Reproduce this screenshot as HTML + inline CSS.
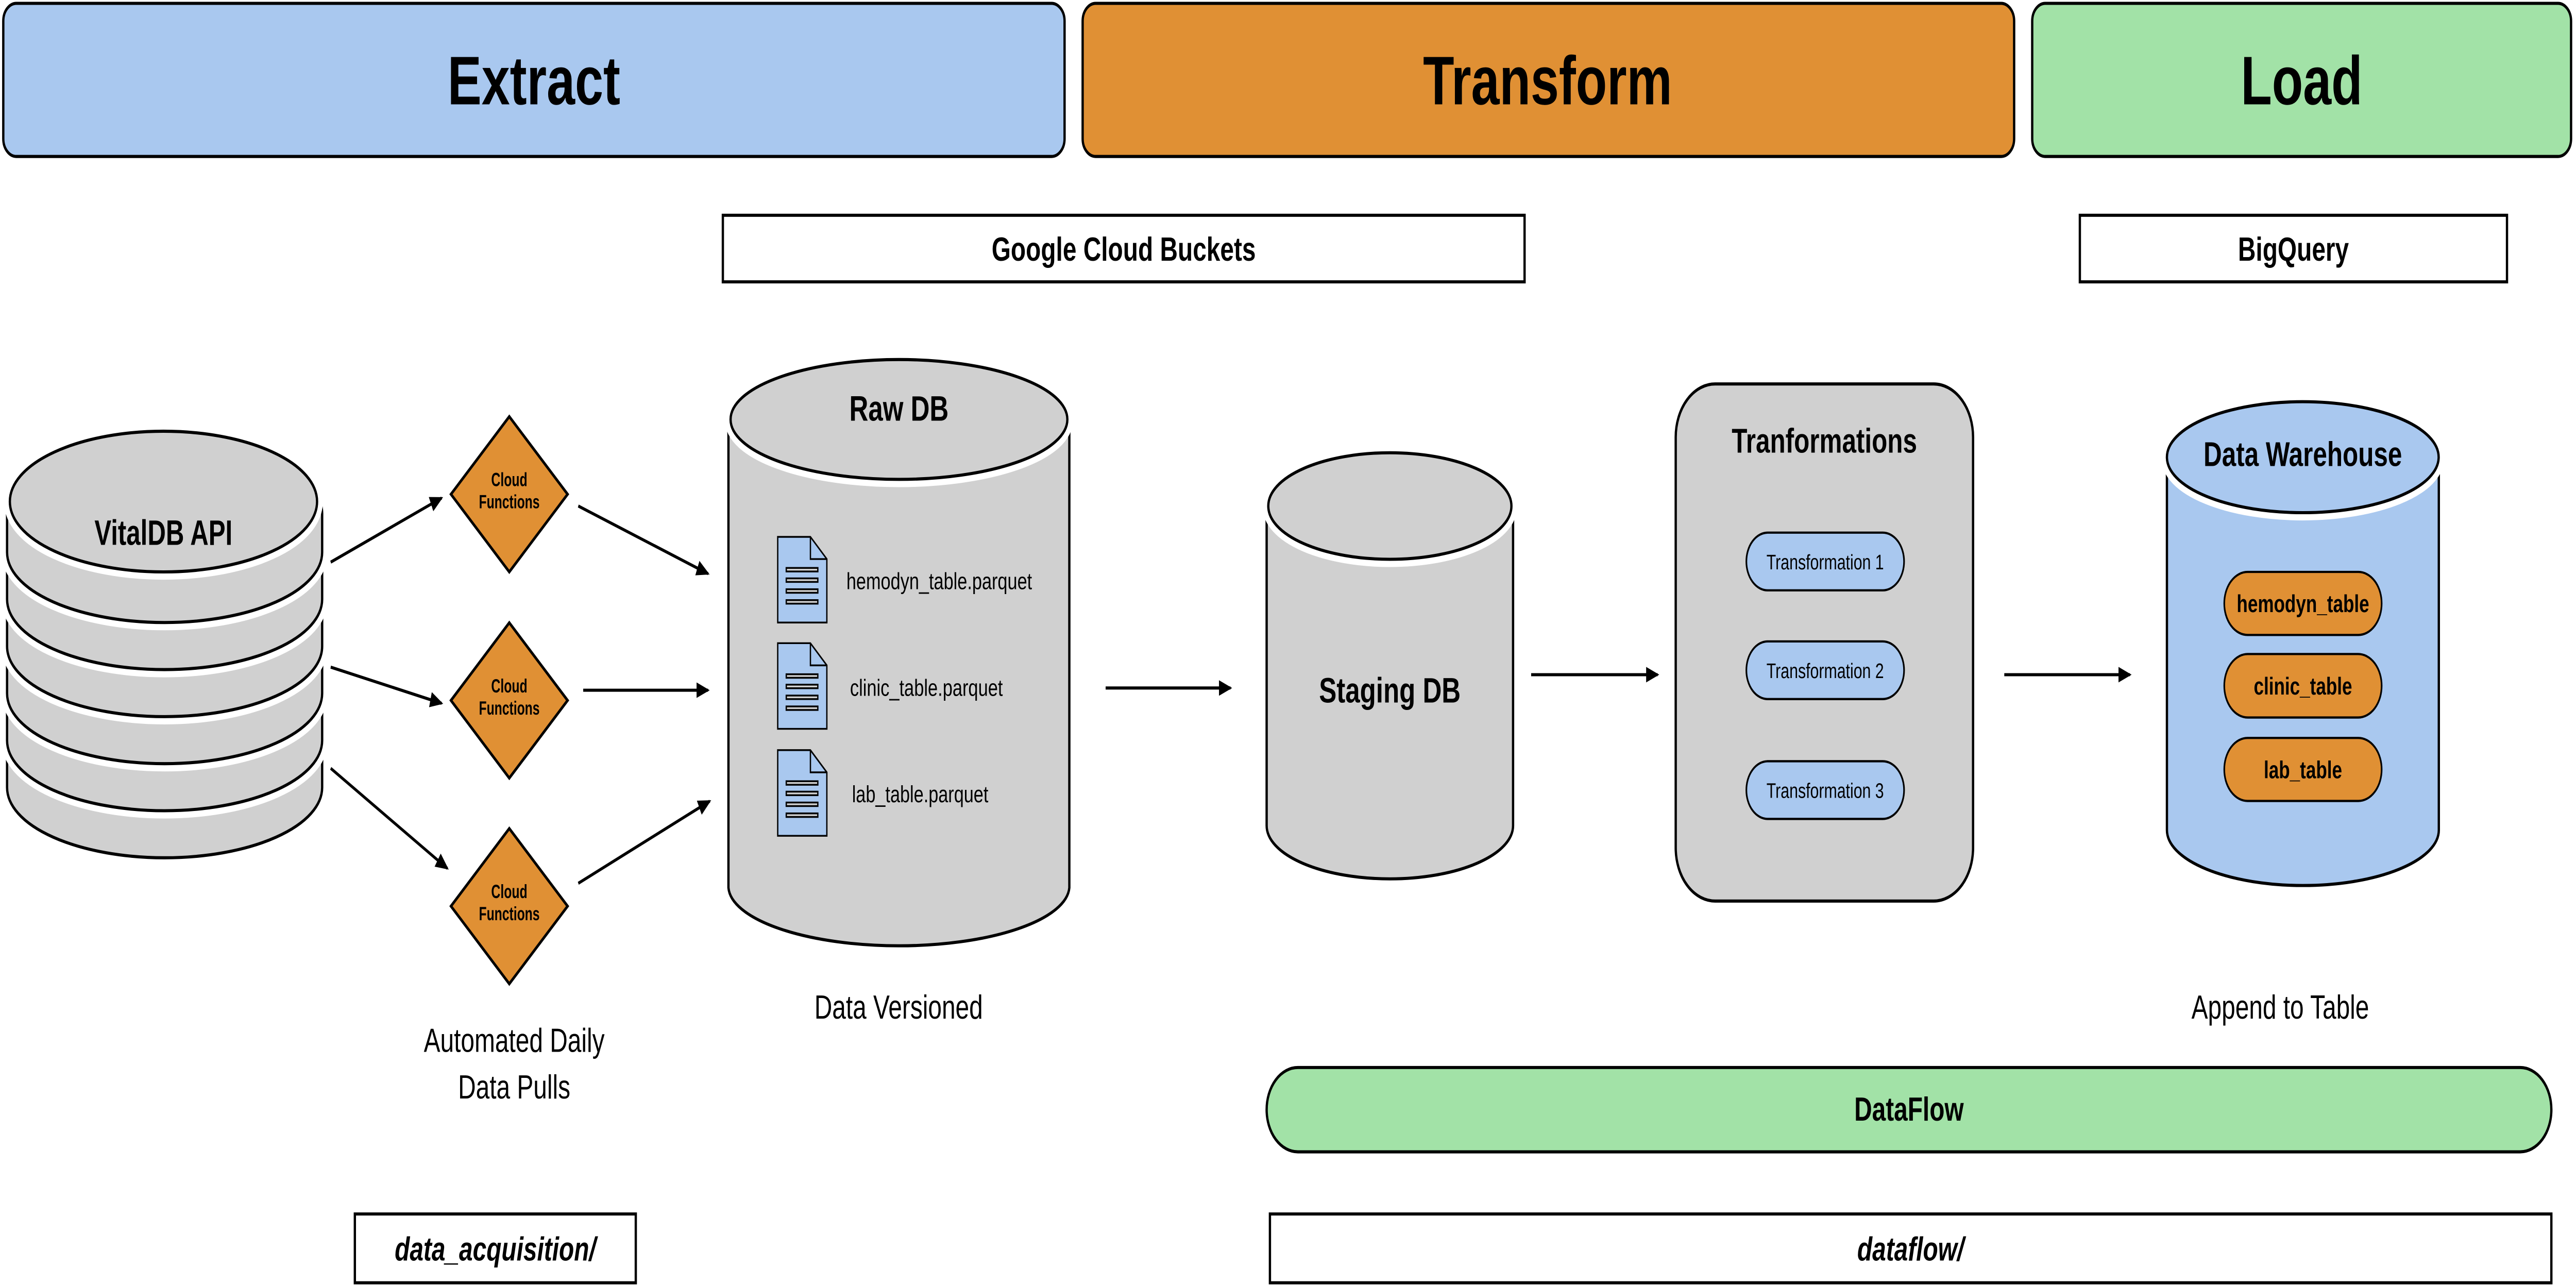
<!DOCTYPE html>
<html><head><meta charset="utf-8"><style>
html,body{margin:0;padding:0;background:#fff;width:100%;height:100%;overflow:hidden;}
svg{display:block;position:absolute;left:0;top:0;width:100vw;height:100vh;}
text{font-family:"Liberation Sans",sans-serif;}
</style></head><body>
<svg xmlns="http://www.w3.org/2000/svg" viewBox="0 0 1568 579" preserveAspectRatio="none">
<defs>
<marker id="ah" markerWidth="8" markerHeight="8" refX="7" refY="4" orient="auto" markerUnits="userSpaceOnUse">
<path d="M0,0.5 L8,4 L0,7.5 Z" fill="#000"/>
</marker>
</defs>
<rect width="1568" height="579" fill="#fff"/>

<rect x="2" y="1.5" width="646" height="69" rx="8" fill="#a9c8ef" stroke="#000" stroke-width="1.4"/>
<text x="325" y="47" font-size="31" font-weight="bold" text-anchor="middle">Extract</text>
<rect x="659" y="1.5" width="567" height="69" rx="8" fill="#e09034" stroke="#000" stroke-width="1.4"/>
<text x="942" y="47" font-size="31" font-weight="bold" text-anchor="middle">Transform</text>
<rect x="1237" y="1.5" width="328" height="69" rx="8" fill="#a2e2a7" stroke="#000" stroke-width="1.4"/>
<text x="1401" y="47" font-size="31" font-weight="bold" text-anchor="middle">Load</text>

<rect x="440" y="97" width="488" height="30" fill="#fff" stroke="#000" stroke-width="1.4"/>
<text x="684" y="117.5" font-size="15" font-weight="bold" text-anchor="middle">Google Cloud Buckets</text>
<rect x="1266" y="97" width="260" height="30" fill="#fff" stroke="#000" stroke-width="1.4"/>
<text x="1396" y="117.5" font-size="15" font-weight="bold" text-anchor="middle">BigQuery</text>

<g fill="#d0d0d0">
<path d="M4.3,337.3 A95.9,31.7 0 0 1 196.1,337.3 L196.1,354.8 A95.9,31.7 0 0 1 4.3,354.8 Z" stroke="#fff" stroke-width="7"/>
<path d="M4.3,337.3 A95.9,31.7 0 0 1 196.1,337.3 L196.1,354.8 A95.9,31.7 0 0 1 4.3,354.8 Z" stroke="#000" stroke-width="1.4"/>
<path d="M4.3,316.1 A95.9,31.7 0 0 1 196.1,316.1 L196.1,333.6 A95.9,31.7 0 0 1 4.3,333.6 Z" stroke="#fff" stroke-width="7"/>
<path d="M4.3,316.1 A95.9,31.7 0 0 1 196.1,316.1 L196.1,333.6 A95.9,31.7 0 0 1 4.3,333.6 Z" stroke="#000" stroke-width="1.4"/>
<path d="M4.3,294.9 A95.9,31.7 0 0 1 196.1,294.9 L196.1,312.4 A95.9,31.7 0 0 1 4.3,312.4 Z" stroke="#fff" stroke-width="7"/>
<path d="M4.3,294.9 A95.9,31.7 0 0 1 196.1,294.9 L196.1,312.4 A95.9,31.7 0 0 1 4.3,312.4 Z" stroke="#000" stroke-width="1.4"/>
<path d="M4.3,273.7 A95.9,31.7 0 0 1 196.1,273.7 L196.1,291.2 A95.9,31.7 0 0 1 4.3,291.2 Z" stroke="#fff" stroke-width="7"/>
<path d="M4.3,273.7 A95.9,31.7 0 0 1 196.1,273.7 L196.1,291.2 A95.9,31.7 0 0 1 4.3,291.2 Z" stroke="#000" stroke-width="1.4"/>
<path d="M4.3,252.5 A95.9,31.7 0 0 1 196.1,252.5 L196.1,270.0 A95.9,31.7 0 0 1 4.3,270.0 Z" stroke="#fff" stroke-width="7"/>
<path d="M4.3,252.5 A95.9,31.7 0 0 1 196.1,252.5 L196.1,270.0 A95.9,31.7 0 0 1 4.3,270.0 Z" stroke="#000" stroke-width="1.4"/>
<path d="M4.3,231.3 A95.9,31.7 0 0 1 196.1,231.3 L196.1,248.8 A95.9,31.7 0 0 1 4.3,248.8 Z" stroke="#fff" stroke-width="7"/>
<path d="M4.3,231.3 A95.9,31.7 0 0 1 196.1,231.3 L196.1,248.8 A95.9,31.7 0 0 1 4.3,248.8 Z" stroke="#000" stroke-width="1.4"/>
<ellipse cx="99.5" cy="226" rx="93.5" ry="31.7" stroke="#fff" stroke-width="7"/>
<ellipse cx="99.5" cy="226" rx="93.5" ry="31.7" stroke="#000" stroke-width="1.4"/>
</g>
<text x="99.5" y="245.5" font-size="16" font-weight="bold" text-anchor="middle" textLength="84" lengthAdjust="spacingAndGlyphs">VitalDB API</text>

<g stroke="#000" stroke-width="1.4" fill="none" marker-end="url(#ah)">
<line x1="201.3" y1="253.3" x2="268.8" y2="224.4"/>
<line x1="201.3" y1="300.6" x2="268.8" y2="316.9"/>
<line x1="201.3" y1="346.2" x2="272.3" y2="391.3"/>
<line x1="352" y1="228" x2="431" y2="258.5"/>
<line x1="355" y1="311" x2="431" y2="311"/>
<line x1="352" y1="398" x2="432" y2="361"/>
<line x1="673" y1="310" x2="749" y2="310"/>
<line x1="932" y1="304" x2="1009" y2="304"/>
<line x1="1220" y1="304" x2="1296.5" y2="304"/>
</g>

<g fill="#e09034" stroke="#000" stroke-width="1.4">
<polygon points="310,187.7 345.5,222.7 310,257.7 274.5,222.7"/>
<polygon points="310,280.6 345.5,315.6 310,350.6 274.5,315.6"/>
<polygon points="310,373.3 345.5,408.3 310,443.3 274.5,408.3"/>
</g>
<g font-size="8.5" font-weight="bold" text-anchor="middle">
<text x="310" y="219" textLength="22" lengthAdjust="spacingAndGlyphs">Cloud</text>
<text x="310" y="229" textLength="37" lengthAdjust="spacingAndGlyphs">Functions</text>
<text x="310" y="312" textLength="22" lengthAdjust="spacingAndGlyphs">Cloud</text>
<text x="310" y="322" textLength="37" lengthAdjust="spacingAndGlyphs">Functions</text>
<text x="310" y="404.6" textLength="22" lengthAdjust="spacingAndGlyphs">Cloud</text>
<text x="310" y="414.6" textLength="37" lengthAdjust="spacingAndGlyphs">Functions</text>
</g>
<text x="313" y="474" font-size="15" text-anchor="middle">Automated Daily</text>
<text x="313" y="495" font-size="15" text-anchor="middle">Data Pulls</text>

<g fill="#d0d0d0">
<path d="M443.4,194 A103.8,27 0 0 1 650.9,194 L650.9,400 A103.8,27 0 0 1 443.4,400 Z" stroke="#000" stroke-width="1.4"/>
<ellipse cx="547.2" cy="189" rx="102.5" ry="27" stroke="#fff" stroke-width="7"/>
<ellipse cx="547.2" cy="189" rx="102.5" ry="27" stroke="#000" stroke-width="1.4"/>
</g>
<text x="547.2" y="189.5" font-size="16" font-weight="bold" text-anchor="middle">Raw DB</text>

<g stroke="#000" stroke-width="0.8">
<g>
<path d="M473.4,241.9 L493.3,241.9 L503.3,251.9 L503.3,280.5 L473.4,280.5 Z" fill="#a9c8ef"/>
<path d="M493.3,241.9 L493.3,251.9 L503.3,251.9" fill="none"/>
<rect x="478.6" y="255.9" width="19.2" height="1.6" fill="#d0d0d0"/>
<rect x="478.6" y="260.6" width="19.2" height="1.6" fill="#d0d0d0"/>
<rect x="478.6" y="265.5" width="19.2" height="1.6" fill="#d0d0d0"/>
<rect x="478.6" y="270.4" width="19.2" height="1.6" fill="#d0d0d0"/>
</g>
<g transform="translate(0,47.9)">
<path d="M473.4,241.9 L493.3,241.9 L503.3,251.9 L503.3,280.5 L473.4,280.5 Z" fill="#a9c8ef"/>
<path d="M493.3,241.9 L493.3,251.9 L503.3,251.9" fill="none"/>
<rect x="478.6" y="255.9" width="19.2" height="1.6" fill="#d0d0d0"/>
<rect x="478.6" y="260.6" width="19.2" height="1.6" fill="#d0d0d0"/>
<rect x="478.6" y="265.5" width="19.2" height="1.6" fill="#d0d0d0"/>
<rect x="478.6" y="270.4" width="19.2" height="1.6" fill="#d0d0d0"/>
</g>
<g transform="translate(0,96.1)">
<path d="M473.4,241.9 L493.3,241.9 L503.3,251.9 L503.3,280.5 L473.4,280.5 Z" fill="#a9c8ef"/>
<path d="M493.3,241.9 L493.3,251.9 L503.3,251.9" fill="none"/>
<rect x="478.6" y="255.9" width="19.2" height="1.6" fill="#d0d0d0"/>
<rect x="478.6" y="260.6" width="19.2" height="1.6" fill="#d0d0d0"/>
<rect x="478.6" y="265.5" width="19.2" height="1.6" fill="#d0d0d0"/>
<rect x="478.6" y="270.4" width="19.2" height="1.6" fill="#d0d0d0"/>
</g>
</g>
<g font-size="10.5">
<text x="515.2" y="265.5" textLength="113" lengthAdjust="spacingAndGlyphs">hemodyn_table.parquet</text>
<text x="517.4" y="313.5" textLength="93" lengthAdjust="spacingAndGlyphs">clinic_table.parquet</text>
<text x="518.6" y="361.5" textLength="83" lengthAdjust="spacingAndGlyphs">lab_table.parquet</text>
</g>
<text x="547" y="459" font-size="15" text-anchor="middle">Data Versioned</text>

<g fill="#d0d0d0">
<path d="M771,233 A75,24 0 0 1 921,233 L921,372 A75,24 0 0 1 771,372 Z" stroke="#000" stroke-width="1.4"/>
<ellipse cx="846" cy="228" rx="74" ry="24" stroke="#fff" stroke-width="7"/>
<ellipse cx="846" cy="228" rx="74" ry="24" stroke="#000" stroke-width="1.4"/>
</g>
<text x="846" y="316.5" font-size="16" font-weight="bold" text-anchor="middle">Staging DB</text>

<rect x="1020" y="173" width="181" height="233" rx="24" fill="#d0d0d0" stroke="#000" stroke-width="1.4"/>
<text x="1110.5" y="204" font-size="15.5" font-weight="bold" text-anchor="middle">Tranformations</text>
<g fill="#a9c8ef" stroke="#000" stroke-width="1">
<rect x="1063" y="240" width="96" height="26" rx="13"/>
<rect x="1063" y="289" width="96" height="26" rx="13"/>
<rect x="1063" y="343" width="96" height="26" rx="13"/>
</g>
<g font-size="9.5" text-anchor="middle">
<text x="1111" y="256.5">Transformation 1</text>
<text x="1111" y="305.5">Transformation 2</text>
<text x="1111" y="359.5">Transformation 3</text>
</g>

<g fill="#a9c8ef">
<path d="M1319,210.5 A82.75,25 0 0 1 1484.5,210.5 L1484.5,374 A82.75,25 0 0 1 1319,374 Z" stroke="#000" stroke-width="1.4"/>
<ellipse cx="1401.7" cy="206" rx="82.7" ry="25" stroke="#fff" stroke-width="7"/>
<ellipse cx="1401.7" cy="206" rx="82.7" ry="25" stroke="#000" stroke-width="1.4"/>
</g>
<text x="1401.7" y="210" font-size="15.5" font-weight="bold" text-anchor="middle">Data Warehouse</text>
<g fill="#e09034" stroke="#000" stroke-width="1">
<rect x="1353.9" y="257.7" width="95.8" height="28.4" rx="14.2"/>
<rect x="1353.9" y="294.7" width="95.8" height="28.6" rx="14.3"/>
<rect x="1353.9" y="332.5" width="95.8" height="28.4" rx="14.2"/>
</g>
<g font-size="11" font-weight="bold" text-anchor="middle">
<text x="1401.8" y="275.8">hemodyn_table</text>
<text x="1401.8" y="313">clinic_table</text>
<text x="1401.8" y="350.7">lab_table</text>
</g>
<text x="1388" y="459" font-size="15" text-anchor="middle">Append to Table</text>

<rect x="771" y="481" width="782" height="38" rx="19" fill="#a2e2a7" stroke="#000" stroke-width="1.4"/>
<text x="1162" y="505" font-size="15" font-weight="bold" text-anchor="middle">DataFlow</text>

<rect x="216" y="547" width="171" height="31" fill="#fff" stroke="#000" stroke-width="1.4"/>
<text x="301.5" y="568" font-size="15" font-weight="bold" font-style="italic" text-anchor="middle">data_acquisition/</text>
<rect x="773" y="547" width="780" height="31" fill="#fff" stroke="#000" stroke-width="1.4"/>
<text x="1163" y="568" font-size="15" font-weight="bold" font-style="italic" text-anchor="middle">dataflow/</text>
</svg>
</body></html>
